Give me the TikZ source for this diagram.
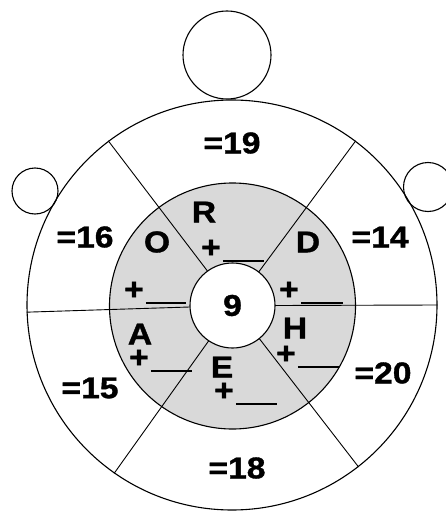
\documentclass[tikz,border=0pt]{standalone}
\usepackage{fontspec}
\newfontfamily\lbl[FakeStretch=1.12,BoldFeatures={FakeBold=1.2}]{Liberation Sans}
\begin{document}
\begin{tikzpicture}[x=1pt,y=-1pt,
  ring/.style={circle,draw,line width=1.1pt,inner sep=0pt},
  divider/.style={line width=0.9pt},
  txt/.style={font=\lbl\bfseries\fontsize{30}{34}\selectfont,inner sep=0pt,anchor=center},
  blank/.style={font=\lbl\bfseries\fontsize{30}{34}\selectfont,inner sep=0pt,anchor=base west}]
\useasboundingbox (0,0) rectangle (445,511);
\fill[white] (0,0) rectangle (445,511);
% outer ring and attached circles
\node[ring,minimum size=410pt] (outer) at (232,305) {};
\node[ring,minimum size=88pt] (head) at (227,55) {};
\node[ring,minimum size=46pt] (lefthand) at (35,191) {};
\node[ring,minimum size=49pt] (righthand) at (428,187) {};
% gray ring
\node[ring,minimum size=246pt,fill=black!15] (gray) at (232.5,306) {};
% center circle (placed for anchors)
\node[circle,inner sep=0pt,minimum size=85pt] (hub0) at (232.5,305.5) {};
% dividers
\draw[divider] (hub0.126) -- (outer.127);
\draw[divider] (hub0.52) -- (outer.53);
\draw[divider] (hub0.182) -- (outer.182);
\draw[divider] (hub0.0) -- (outer.0);
\draw[divider] (hub0.236) -- (outer.235);
\draw[divider] (hub0.309) -- (outer.308);
\node[ring,minimum size=85pt,fill=white] (hub) at (232.5,305.5) {};
\node[txt] (nine) at (hub) {9};
% sums
\node[txt] (s19) at (232,143) {=19};
\node[txt] (s16) at (85,237) {=16};
\node[txt] (s14) at (380,237) {=14};
\node[txt] (s15) at (90,388) {=15};
\node[txt] (s20) at (383,373) {=20};
\node[txt] (s18) at (237,468) {=18};
% letters
\node[txt] (R) at (204,212) {R};
\node[txt] (O) at (157,242) {O};
\node[txt] (D) at (308,242) {D};
\node[txt] (A) at (140,334) {A};
\node[txt] (H) at (295,328) {H};
\node[txt] (E) at (222,367) {E};
% blanks
\node[blank] (bR) at (201,257.5) {+\kern2pt\rule[-4.6pt]{41pt}{1.8pt}};
\node[blank] (bO) at (124,299.5) {+\kern2pt\rule[-4.6pt]{40pt}{1.8pt}};
\node[blank] (bD) at (279,299.5) {+\kern2pt\rule[-4.6pt]{42pt}{1.8pt}};
\node[blank] (bA) at (129,367.5) {+\kern2pt\rule[-4.6pt]{41pt}{1.8pt}};
\node[blank] (bH) at (276,363.5) {+\kern2pt\rule[-4.6pt]{41pt}{1.8pt}};
\node[blank] (bE) at (214,400.5) {+\kern2pt\rule[-4.6pt]{41pt}{1.8pt}};
\end{tikzpicture}
\end{document}
